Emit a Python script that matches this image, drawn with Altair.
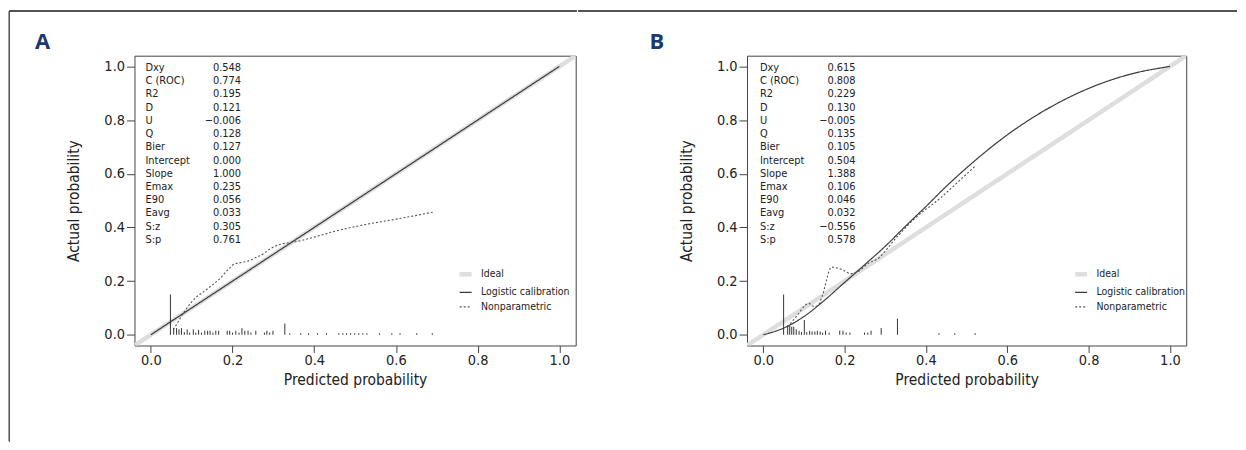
import altair as alt
import pandas as pd

FONT = "Liberation Sans Narrow, DejaVu Sans Condensed, sans-serif"

# ---------------- data ----------------
stat_names = ["Dxy", "C (ROC)", "R2", "D", "U", "Q", "Bier", "Intercept",
              "Slope", "Emax", "E90", "Eavg", "S:z", "S:p"]
stats_a = ["0.548", "0.774", "0.195", "0.121", "\u22120.006", "0.128", "0.127",
           "0.000", "1.000", "0.235", "0.056", "0.033", "0.305", "0.761"]
stats_b = ["0.615", "0.808", "0.229", "0.130", "\u22120.005", "0.135", "0.105",
           "0.504", "1.388", "0.106", "0.046", "0.032", "\u22120.556", "0.578"]

series_names = ["Ideal", "Logistic calibration", "Nonparametric"]
tick_values = [0.0, 0.2, 0.4, 0.6, 0.8, 1.0]

ideal_x = [-0.05, 1.05]
ideal_y = [-0.05, 1.05]

# Panel A
logit_a_x = [0.0, 0.2, 0.4, 0.6, 0.8, 1.0]
logit_a_y = [0.0, 0.2, 0.4, 0.6, 0.8, 1.0]
nonpar_a_x = [0.055, 0.062, 0.079, 0.087, 0.112, 0.128, 0.150, 0.169, 0.190,
              0.205, 0.225, 0.242, 0.260, 0.275, 0.290, 0.307, 0.325, 0.345,
              0.370, 0.400, 0.454, 0.519, 0.601, 0.694]
nonpar_a_y = [0.020, 0.036, 0.079, 0.097, 0.141, 0.159, 0.185, 0.209, 0.245,
              0.264, 0.270, 0.277, 0.290, 0.301, 0.318, 0.332, 0.340, 0.344,
              0.352, 0.364, 0.387, 0.409, 0.431, 0.458]
spike_a_x = [0.048, 0.056, 0.063, 0.069, 0.075, 0.082, 0.089, 0.095, 0.104,
             0.110, 0.117, 0.124, 0.132, 0.139, 0.145, 0.152, 0.159, 0.166,
             0.187, 0.193, 0.200, 0.208, 0.216, 0.223, 0.230, 0.238, 0.245,
             0.257, 0.278, 0.284, 0.291, 0.299, 0.328, 0.340, 0.367, 0.386,
             0.408, 0.430, 0.460, 0.470, 0.479, 0.489, 0.499, 0.509, 0.519,
             0.529, 0.560, 0.590, 0.610, 0.651, 0.689]
spike_a_h = [0.150, 0.025, 0.025, 0.020, 0.025, 0.010, 0.020, 0.008, 0.020,
             0.008, 0.018, 0.008, 0.015, 0.015, 0.015, 0.008, 0.015, 0.015,
             0.015, 0.015, 0.008, 0.015, 0.008, 0.025, 0.015, 0.015, 0.008,
             0.015, 0.008, 0.015, 0.008, 0.015, 0.042, 0.006, 0.006, 0.006,
             0.006, 0.006, 0.006, 0.006, 0.006, 0.006, 0.006, 0.006, 0.006,
             0.006, 0.006, 0.006, 0.006, 0.006, 0.006]

# Panel B
logit_b_x = [0.0, 0.05, 0.10, 0.15, 0.20, 0.25, 0.30, 0.35, 0.40, 0.45,
             0.50, 0.60, 0.70, 0.80, 0.90, 1.0]
logit_b_y = [0.0, 0.025, 0.068, 0.128, 0.195, 0.262, 0.330, 0.405, 0.478,
             0.553, 0.622, 0.745, 0.843, 0.918, 0.970, 1.0]
nonpar_b_x = [0.060, 0.085, 0.103, 0.112, 0.125, 0.135, 0.145, 0.168, 0.195,
              0.215, 0.230, 0.260, 0.280, 0.326, 0.375, 0.432, 0.472, 0.522]
nonpar_b_y = [0.030, 0.075, 0.110, 0.117, 0.105, 0.110, 0.145, 0.252, 0.242,
              0.228, 0.233, 0.268, 0.282, 0.360, 0.437, 0.505, 0.560, 0.630]
spike_b_x = [0.050, 0.060, 0.065, 0.070, 0.075, 0.081, 0.088, 0.094, 0.101,
             0.107, 0.114, 0.120, 0.127, 0.133, 0.140, 0.146, 0.153, 0.162,
             0.188, 0.196, 0.204, 0.213, 0.249, 0.257, 0.265, 0.290, 0.330,
             0.432, 0.471, 0.521]
spike_b_h = [0.150, 0.035, 0.035, 0.030, 0.030, 0.020, 0.015, 0.010, 0.055,
             0.010, 0.015, 0.012, 0.012, 0.015, 0.012, 0.008, 0.015, 0.008,
             0.015, 0.015, 0.008, 0.008, 0.008, 0.008, 0.015, 0.025, 0.060,
             0.006, 0.006, 0.006]

W_A, W_B, H = 443, 441, 291


def panel(letter, letter_dx, width, stats_vals, lx, ly, npx, npy, sx, sh,
          legend_x, txt_l, txt_r, frame):
    rows = []
    for s, xs, ys in [("Ideal", ideal_x, ideal_y),
                      ("Logistic calibration", lx, ly),
                      ("Nonparametric", npx, npy)]:
        for i, (a, b) in enumerate(zip(xs, ys)):
            rows.append({"series": s, "x": a, "y": b, "i": i})
    lines_df = pd.DataFrame(rows)
    spike_df = pd.DataFrame({"x": sx, "h": sh, "base": [0.0] * len(sx)})
    stats_df = pd.DataFrame({"name": stat_names, "val": stats_vals,
                             "row": list(range(len(stat_names)))})
    letter_df = pd.DataFrame({"letter": [letter]})

    xsc = alt.Scale(domain=[-0.04, 1.04], nice=False, zero=False)
    ysc = alt.Scale(domain=[-0.04, 1.04], nice=False, zero=False)
    xaxis = alt.Axis(values=tick_values, format=".1f",
                     title="Predicted probability", labelPadding=1,
                     tickSize=7, titlePadding=6)
    yaxis = alt.Axis(values=tick_values, format=".1f",
                     title="Actual probability", labelPadding=2,
                     titlePadding=22)
    legend = alt.Legend(orient="none", legendX=legend_x, legendY=211,
                        title=None, symbolType="stroke", symbolSize=144,
                        labelFont=FONT, labelFontSize=10.5, labelColor="#222",
                        rowPadding=1.6, labelOffset=7, padding=0)

    lines = alt.Chart(lines_df).mark_line(clip=True, interpolate="monotone").encode(
        x=alt.X("x:Q", scale=xsc, axis=xaxis),
        y=alt.Y("y:Q", scale=ysc, axis=yaxis),
        color=alt.Color("series:N", legend=legend,
                        scale=alt.Scale(domain=series_names,
                                        range=["#dedede", "#3a3a3a", "#555555"])),
        strokeDash=alt.StrokeDash("series:N", legend=legend,
                                  scale=alt.Scale(domain=series_names,
                                                  range=[[1, 0], [1, 0], [2, 2]])),
        strokeWidth=alt.StrokeWidth("series:N", legend=legend,
                                    scale=alt.Scale(type="ordinal",
                                                    domain=series_names,
                                                    range=[4.5, 1.2, 1.1])),
        order="i:Q",
    )
    spikes = alt.Chart(spike_df).mark_rule(color="#333333", strokeWidth=1).encode(
        x=alt.X("x:Q", scale=xsc),
        y=alt.Y("base:Q", scale=ysc),
        y2="h:Q",
    )

    frame_layers = []
    for (x1, x2, y1, y2) in frame:
        frame_layers.append(
            alt.Chart(spike_df).mark_rule(color="#555555", strokeWidth=1,
                                          clip=False).encode(
                x=alt.value(x1), x2=alt.value(x2),
                y=alt.value(y1), y2=alt.value(y2)))

    letter_mark = alt.Chart(letter_df).mark_text(
        align="left", baseline="alphabetic", font="Open Sans", fontSize=22,
        fontWeight="bold", color="#1b3a6b").encode(
        x=alt.value(letter_dx), y=alt.value(-7), text="letter:N")

    plot = alt.layer(lines, spikes, letter_mark, *frame_layers)

    rsc = alt.Scale(type="point", domain=list(range(len(stat_names))),
                    range=[12.3, 12.3 + 13 * 13.28], padding=0)
    t_names = alt.Chart(stats_df).mark_text(
        align="left", baseline="middle", font=FONT, fontSize=11,
        color="#222222").encode(
        x=alt.value(txt_l), y=alt.Y("row:O", scale=rsc, axis=None),
        text="name:N")
    t_vals = alt.Chart(stats_df).mark_text(
        align="right", baseline="middle", font=FONT, fontSize=11,
        color="#222222").encode(
        x=alt.value(txt_r), y=alt.Y("row:O", scale=rsc, axis=None),
        text="val:N")
    texts = alt.layer(t_names, t_vals)

    return alt.layer(plot, texts).resolve_scale(y="independent").properties(
        width=width, height=H)


pa = panel("A", -100, W_A, stats_a, logit_a_x, logit_a_y, nonpar_a_x,
           nonpar_a_y, spike_a_x, spike_a_h, 324, 11, 107,
           frame=[(-125.5, -125.5, -45.2, 387), (-125.5, W_A + 0.5, -45.2, -45.2)])
pb = panel("B", -98, W_B, stats_b, logit_b_x, logit_b_y, nonpar_b_x,
           nonpar_b_y, spike_b_x, spike_b_h, 327, 13, 109,
           frame=[(-169, 492, -45.2, -45.2)])

chart = alt.hconcat(pa, pb, spacing=0).resolve_scale(
    color="independent", strokeDash="independent", strokeWidth="independent"
).properties(padding=0).configure_view(
    stroke="#444444", strokeWidth=1
).configure_axis(
    domain=False, grid=False, tickColor="#444444", tickSize=8, tickWidth=1,
    labelFont=FONT, labelFontSize=14.5, labelColor="#222222",
    titleFont=FONT, titleFontSize=15.5, titleFontWeight="normal",
    titleColor="#222222"
)

chart.save("out.html", embed_options={"renderer": "svg", "actions": False})
